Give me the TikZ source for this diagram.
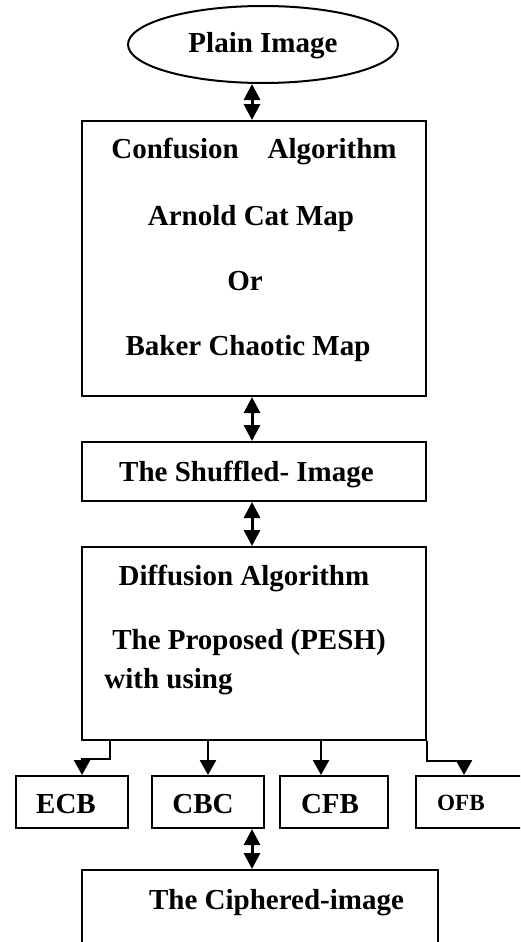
\documentclass[tikz,border=0pt]{standalone}
\usepackage{fontspec}
\setmainfont{Liberation Serif}
\usetikzlibrary{arrows.meta,shapes.geometric}
\begin{document}
\begin{tikzpicture}[x=0.5pt,y=-0.5pt,
  box/.style={draw,line width=1pt,inner sep=0pt,minimum width=172pt},
  small/.style={draw,line width=1pt,inner sep=0pt,minimum width=56pt,minimum height=26pt},
  lbl/.style={font=\bfseries\fontsize{14.5}{17}\selectfont,inner sep=0pt,anchor=base},
  dbl/.style={line width=1.5pt,{Triangle[width=8pt,length=8pt]}-{Triangle[width=8pt,length=8pt]}},
  one/.style={line width=1.3pt,-{Triangle[width=8pt,length=7.5pt]}}]
\useasboundingbox (0,0) rectangle (520,942);
\clip (0,0) rectangle (520,942);

% shapes
\node[draw,ellipse,line width=1pt,minimum width=135pt,minimum height=38.5pt,inner sep=0pt] (plain) at (263,44.5) {};
\node[box,minimum height=137.5pt] (conf) at (254,258.5) {};
\node[box,minimum height=29.5pt] (shuf) at (254,471.5) {};
\node[box,minimum height=96.5pt] (diff) at (254,643.5) {};
\node[small] (ecb) at (72,802) {};
\node[small] (cbc) at (208,802) {};
\node[small,minimum width=54pt] (cfb) at (334,802) {};
\node[small] (ofb) at (472,802) {};
\node[box,minimum width=178pt,minimum height=45pt] (ciph) at (260,915) {};

% texts
\node[lbl] (tplain) at (263,52) {Plain Image};
\node[lbl] (tconf) at (254,158) {Confusion\hspace{0.75em} Algorithm};
\node[lbl] (tarnold) at (251,225) {Arnold Cat Map};
\node[lbl] (tor) at (245,290) {Or};
\node[lbl] (tbaker) at (248,355.5) {Baker Chaotic Map};
\node[lbl] (tshuf) at (246.5,481) {The Shuffled- Image};
\node[lbl] (tdiff) at (244,585) {Diffusion Algorithm};
\node[lbl] (tprop) at (249,649) {The Proposed (PESH)};
\node[lbl,anchor=base west] (twith) at (104,688) {with using};
\node[lbl] (tecb) at (66,813) {ECB};
\node[lbl] (tcbc) at (203,813) {CBC};
\node[lbl] (tcfb) at (330,813) {CFB};
\node[lbl,font=\bfseries\fontsize{11.6}{14}\selectfont] (tofb) at (461,810) {OFB};
\node[lbl] (tciph) at (276.5,909) {The Ciphered-image};

% connectors
\coordinate (ax) at (252,0);
\draw[dbl] (plain.south -| ax) -- (conf.north -| ax);
\draw[dbl] (conf.south -| ax) -- (shuf.north -| ax);
\draw[dbl] (shuf.south -| ax) -- (diff.north -| ax);
\draw[dbl] (cbc.south -| ax) -- (ciph.north -| ax);

\coordinate (e1) at (110,0);
\coordinate (ecbturn) at (82,759);
\draw[one] (diff.south -| e1) |- (ecbturn) -- (ecb.north -| ecbturn);
\draw[one] (diff.south -| cbc.north) -- (cbc.north);
\coordinate (c1) at (321,0);
\draw[one] (diff.south -| c1) -- (cfb.north -| c1);
\coordinate (ofbturn) at (464,761);
\draw[one] (diff.south east) |- (ofbturn) -- (ofb.north -| ofbturn);
\end{tikzpicture}
\end{document}
